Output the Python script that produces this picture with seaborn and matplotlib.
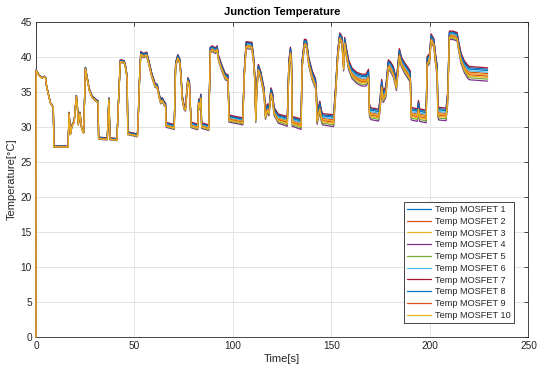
import numpy as np
import pandas as pd
import matplotlib
matplotlib.use("Agg")
import matplotlib.pyplot as plt
import seaborn as sns

# Mean junction temperature trace (time in s, temperature in degC) and the
# half-width of the band the ten MOSFET traces occupy around it.
time_s = [
    0.0, 0.1, 1.5, 3.0, 4.2, 4.9, 5.4, 6.6, 7.4, 8.8, 9.1, 16.3, 16.8, 17.5,
    18.3, 19.4, 20.5, 21.0, 21.5, 22.3, 23.2, 24.2, 25.1, 26.0, 27.0, 28.5,
    30.0, 31.5, 31.8, 36.2, 37.0, 37.6, 41.1, 41.8, 42.8, 44.8, 45.6, 46.3,
    46.6, 51.5, 52.0, 52.6, 53.2, 54.6, 56.2, 57.2, 58.8, 60.4, 61.6, 62.4,
    63.3, 64.1, 65.0, 65.8, 66.1, 70.2, 70.9, 72.0, 73.0, 73.7, 74.2, 75.1,
    75.9, 77.1, 77.9, 78.4, 78.8, 82.1, 82.6, 83.1, 83.7, 84.1, 87.7, 88.5,
    89.5, 91.1, 92.0, 92.7, 94.4, 96.1, 97.5, 98.0, 105.0, 105.7, 106.7,
    109.6, 110.4, 111.0, 111.6, 112.1, 112.9, 114.1, 115.1, 115.8, 116.5,
    117.5, 118.3, 119.3, 120.1, 120.9, 122.0, 123.0, 127.6, 128.4, 129.2,
    129.7, 130.1, 134.6, 135.1, 136.3, 137.3, 138.5, 140.2, 141.9, 142.4,
    142.7, 144.1, 144.8, 145.5, 151.1, 152.0, 153.2, 154.2, 155.3, 155.8,
    156.2, 156.7, 157.5, 158.7, 160.4, 162.9, 165.4, 167.6, 168.8, 169.3,
    170.0, 173.9, 174.6, 175.5, 176.3, 177.6, 178.9, 180.0, 181.4, 182.2,
    183.0, 184.5, 185.5, 187.2, 188.9, 190.0, 190.5, 193.6, 194.2, 194.8,
    198.1, 198.6, 199.8, 200.6, 202.0, 202.8, 203.7, 204.0, 204.5, 208.2,
    209.0, 209.9, 211.6, 213.8, 214.5, 215.8, 217.5, 219.2, 220.0, 229.3,
]
temp_c = [
    0.0, 38.1, 37.4, 37.0, 37.2, 37.0, 35.8, 34.3, 33.4, 32.8, 27.2, 27.2, 32.0, 29.0,
    30.2, 30.8, 34.4, 33.0, 30.4, 32.0, 29.8, 29.2, 38.4, 37.0, 35.4, 34.3,
    33.9, 33.6, 28.4, 28.3, 34.0, 28.3, 28.2, 33.0, 39.4, 39.3, 38.4, 37.0,
    29.1, 28.8, 32.0, 37.0, 40.5, 40.2, 40.4, 39.3, 37.4, 36.0, 35.8, 34.6,
    33.6, 33.9, 33.4, 33.1, 30.3, 30.0, 38.9, 40.0, 39.4, 37.0, 34.3, 32.9,
    32.6, 36.7, 36.2, 32.7, 30.3, 30.0, 33.6, 32.9, 34.3, 30.2, 29.9, 41.0,
    41.2, 40.9, 41.2, 39.8, 38.4, 37.2, 37.0, 31.2, 30.8, 37.4, 41.7,
    41.6, 39.8, 37.4, 31.2, 35.5, 38.4, 37.4, 36.0, 35.0, 31.7,
    32.7, 32.2, 35.0, 34.3, 32.2, 31.7, 31.2, 30.8, 38.9, 40.8,
    39.3, 30.8, 30.4, 38.9, 42.0, 41.9, 39.3, 37.4, 36.2, 34.1,
    31.2, 32.9, 31.7, 31.1, 30.9, 34.6, 40.3, 42.9, 42.4, 40.3,
    38.6, 42.2, 40.8, 38.9, 37.7, 37.0, 36.7, 36.7, 37.4, 32.4,
    31.9, 31.7, 32.9, 36.0, 34.3, 35.0, 38.9, 38.6, 37.9, 37.0,
    36.0, 40.5, 39.3, 38.4, 37.7, 37.2, 31.9, 31.7, 32.9, 31.7,
    31.5, 39.3, 39.8, 42.7, 42.0, 39.8, 37.9, 32.4, 31.9, 31.8,
    34.1, 43.1, 43.1, 42.9, 41.7, 39.8, 38.6, 37.9, 37.7, 37.5,
]
spread_c = [
    0.0, 0.05, 0.05, 0.05, 0.05, 0.05, 0.05, 0.05, 0.05, 0.05, 0.08, 0.08, 0.1, 0.1,
    0.1, 0.1, 0.12, 0.12, 0.12, 0.12, 0.12, 0.12, 0.15, 0.15, 0.15, 0.15,
    0.15, 0.15, 0.15, 0.15, 0.15, 0.15, 0.15, 0.15, 0.2, 0.2, 0.2, 0.2,
    0.2, 0.2, 0.2, 0.25, 0.3, 0.3, 0.3, 0.3, 0.3, 0.3, 0.3, 0.3,
    0.3, 0.3, 0.3, 0.3, 0.35, 0.35, 0.35, 0.35, 0.35, 0.35, 0.35, 0.35,
    0.35, 0.35, 0.35, 0.35, 0.4, 0.4, 0.4, 0.4, 0.4, 0.4, 0.4, 0.4,
    0.4, 0.4, 0.4, 0.4, 0.45, 0.45, 0.45, 0.5, 0.5, 0.5, 0.5,
    0.5, 0.5, 0.5, 0.55, 0.55, 0.55, 0.55, 0.55, 0.55, 0.6,
    0.6, 0.6, 0.6, 0.6, 0.6, 0.6, 0.65, 0.7, 0.6, 0.6,
    0.6, 0.7, 0.75, 0.6, 0.55, 0.55, 0.6, 0.65, 0.7, 0.75,
    0.8, 0.8, 0.8, 0.8, 0.85, 0.7, 0.6, 0.55, 0.55, 0.6,
    0.6, 0.6, 0.65, 0.7, 0.75, 0.8, 0.85, 0.85, 0.85, 0.85,
    0.85, 0.85, 0.85, 0.8, 0.8, 0.8, 0.7, 0.7, 0.75, 0.75,
    0.8, 0.7, 0.7, 0.75, 0.8, 0.8, 0.9, 0.9, 0.9, 0.9,
    0.9, 0.75, 0.7, 0.6, 0.6, 0.7, 0.8, 0.9, 0.9, 0.9,
    0.85, 0.6, 0.6, 0.6, 0.65, 0.75, 0.85, 0.95, 0.95, 0.95,
]

sensor_names = [f"Temp MOSFET {i}" for i in range(1, 11)]
# Position of each sensor inside the band (+1 = hottest edge, -1 = coolest edge)
sensor_offsets = [0.8, 0.15, -0.05, -1.0, -0.7, 0.35, 1.0, 0.6, -0.25, -0.45]
line_colors = ["#0072BD", "#D95319", "#EDB120", "#7E2F8E", "#77AC30",
               "#4DBEEE", "#A2142F", "#0072BD", "#D95319", "#EDB120"]

t = np.asarray(time_s)
base = np.asarray(temp_c)
band = np.asarray(spread_c)

frames = []
for name, off in zip(sensor_names, sensor_offsets):
    frames.append(pd.DataFrame({"Time": t, "Temp": base + off * band, "Sensor": name}))
df = pd.concat(frames, ignore_index=True)

sns.set_style("white")
plt.rcParams["font.family"] = ["Liberation Sans", "DejaVu Sans"]

fig = plt.figure(figsize=(5.37, 3.67), dpi=100)
ax = fig.add_axes([0.067, 0.082, 0.917, 0.858])

sns.lineplot(data=df, x="Time", y="Temp", hue="Sensor", hue_order=sensor_names,
             palette=line_colors, sort=False, estimator=None, linewidth=0.9,
             ax=ax)
for ln in ax.lines:
    ln.set_zorder(3)
    ln.set_clip_on(False)

ax.set_xlim(0, 250)
ax.set_ylim(0, 45)
ax.set_xticks(np.arange(0, 251, 50))
ax.set_yticks(np.arange(0, 46, 5))
ax.grid(True, color="#e3e3e3", linewidth=0.7)
ax.set_axisbelow(True)

dark = "#262626"
for sp in ax.spines.values():
    sp.set_color(dark)
    sp.set_linewidth(0.6)
ax.tick_params(direction="in", top=True, right=True, length=3, width=0.6,
               colors=dark, labelsize=7.3, pad=3)

ax.set_title("Junction Temperature", fontsize=8, fontweight="bold", pad=5,
             color="black")
ax.set_xlabel("Time[s]", fontsize=8, color=dark, labelpad=2)
ax.set_ylabel("Temperature[\u00b0C]", fontsize=8, color=dark, labelpad=3)

handles, labels = ax.get_legend_handles_labels()
leg = ax.legend(handles, labels, loc="lower right", bbox_to_anchor=(0.97, 0.044),
                borderaxespad=0, fontsize=6.6, frameon=True, fancybox=False,
                handlelength=2.6, handletextpad=0.4, labelspacing=0.3,
                borderpad=0.35)
leg.get_frame().set_edgecolor(dark)
leg.get_frame().set_linewidth(0.6)
leg.get_frame().set_alpha(1)
leg.set_zorder(5)

fig.savefig("out.png", dpi=100)
